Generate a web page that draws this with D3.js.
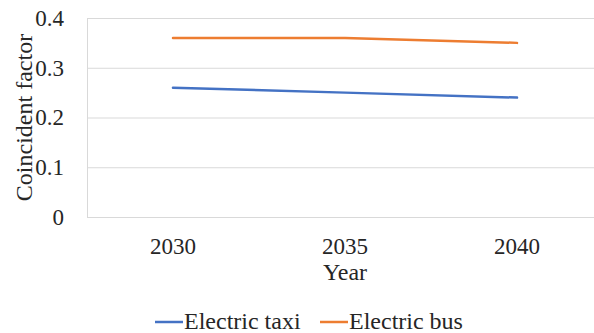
<!DOCTYPE html>
<html>
<head>
<meta charset="utf-8">
<script src="https://cdn.jsdelivr.net/npm/d3@7"></script>
<style>
  body { margin: 0; background: #fff; }
  svg { display: block; }
</style>
</head>
<body>
<svg width="594" height="333"></svg>
<script>
const years = ["2030", "2035", "2040"]
const taxiValues = [0.26, 0.25, 0.24]
const busValues = [0.36, 0.36, 0.35]
const yTicks = [0, 0.1, 0.2, 0.3, 0.4]

const series = [
  { name: "Electric taxi", values: taxiValues, color: "#4472C4" },
  { name: "Electric bus", values: busValues, color: "#ED7D31" }
]

const svg = d3.select("svg")
const [LEFT, RIGHT, TOP, BOTTOM] = [87, 603, 18, 217]
const TEXT = "#262626"
const SERIF = '"Liberation Serif", "Times New Roman", serif'

const x = d3.scaleBand().domain(years).range([LEFT, RIGHT])
const y = d3.scaleLinear().domain([0, 0.4]).range([BOTTOM, TOP])

const styleText = (sel, size) => sel
  .style("font-family", SERIF)
  .style("font-size", `${size}px`)
  .attr("fill", TEXT)

// gridlines
svg.append("g")
  .selectAll("line")
  .data(yTicks)
  .join("line")
  .attr("x1", LEFT)
  .attr("x2", RIGHT)
  .attr("y1", (d) => y(d) + 0.5)
  .attr("y2", (d) => y(d) + 0.5)
  .attr("stroke", "#d9d9d9")
  .attr("stroke-width", 1)

svg.append("line")
  .attr("x1", LEFT + 0.5).attr("x2", LEFT + 0.5)
  .attr("y1", TOP).attr("y2", BOTTOM)
  .attr("stroke", "#d9d9d9")

// y axis labels
const yAxis = svg.append("g")
  .attr("transform", `translate(${LEFT - 20},0)`)
  .call(d3.axisLeft(y).tickValues(yTicks).tickSize(0).tickFormat((d) => d === 0 ? "0" : d3.format(".1f")(d)))
yAxis.select(".domain").remove()
styleText(yAxis.selectAll("text"), 23).attr("dx", 0)

// x axis labels
const xAxis = svg.append("g")
  .attr("transform", `translate(0,${BOTTOM + 18})`)
  .call(d3.axisBottom(x).tickSize(0))
xAxis.select(".domain").remove()
styleText(xAxis.selectAll("text"), 23)

// axis titles
styleText(svg.append("text"), 24)
  .attr("x", 345)
  .attr("y", 280)
  .attr("text-anchor", "middle")
  .text("Year")

styleText(svg.append("text"), 24)
  .attr("transform", `translate(32,${(TOP + BOTTOM) / 2}) rotate(-90)`)
  .attr("text-anchor", "middle")
  .text("Coincident factor")

// lines
const line = d3.line()
  .x((d, i) => x(years[i]) + x.bandwidth() / 2)
  .y((d) => y(d))

svg.append("g")
  .selectAll("path")
  .data(series)
  .join("path")
  .attr("d", (s) => line(s.values))
  .attr("fill", "none")
  .attr("stroke", (s) => s.color)
  .attr("stroke-width", 2.5)
  .attr("stroke-linecap", "round")

// legend
const legendPos = [155, 320]
const legend = svg.append("g")
  .selectAll("g")
  .data(series)
  .join("g")
  .attr("transform", (s, i) => `translate(${legendPos[i]},322)`)
legend.append("line")
  .attr("x1", 0).attr("x2", 28)
  .attr("y1", 0).attr("y2", 0)
  .attr("stroke", (s) => s.color)
  .attr("stroke-width", 2.5)
styleText(legend.append("text"), 24)
  .attr("x", 29)
  .attr("y", 7)
  .text((s) => s.name)
</script>
</body>
</html>
